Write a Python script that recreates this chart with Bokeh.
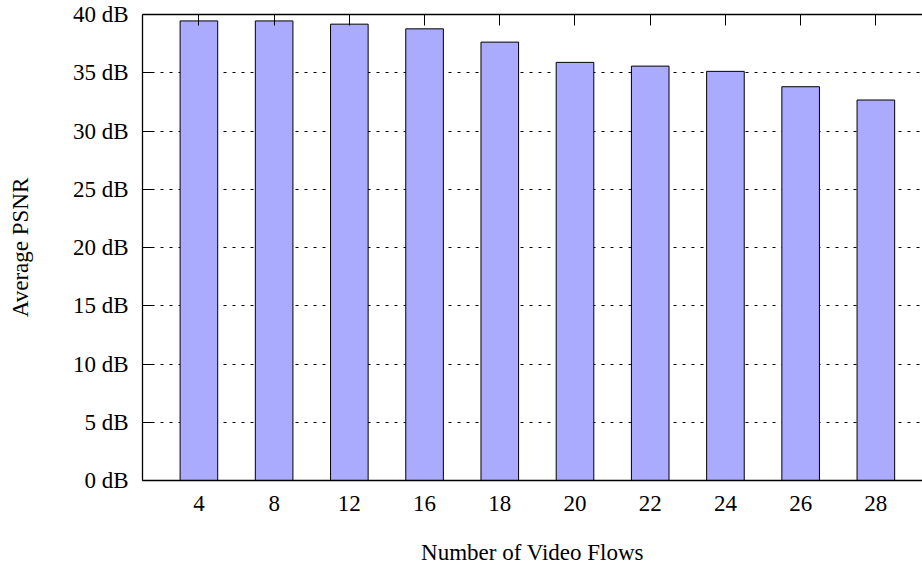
from bokeh.plotting import figure
from bokeh.models import Range1d, FixedTicker, LinearAxis
from bokeh.embed import file_html
from bokeh.resources import INLINE

# Average PSNR per number of concurrent video flows
flows = [4, 8, 12, 16, 18, 20, 22, 24, 26, 28]
psnr_db = [39.45, 39.45, 39.17, 38.77, 37.63, 35.89, 35.57, 35.12, 33.80, 32.66]
y_ticks = [0, 5, 10, 15, 20, 25, 30, 35, 40]

FONT = "Liberation Serif"
idx = list(range(len(flows)))

p = figure(
    width=922, height=567,
    x_range=Range1d(-0.75, 9.62), y_range=Range1d(0, 40),
    output_backend="svg", toolbar_location=None,
    min_border_left=142, min_border_right=0,
    min_border_top=14, min_border_bottom=85,
)
p.outline_line_color = None
p.background_fill_color = "white"
p.border_fill_color = "white"

p.vbar(x=idx, top=psnr_db, bottom=0, width=0.5,
       fill_color="#aaaaff", line_color="black", line_width=1)

# horizontal dotted grid
p.xgrid.grid_line_color = None
p.ygrid.ticker = FixedTicker(ticks=y_ticks)
p.ygrid.grid_line_color = "black"
p.ygrid.grid_line_dash = "3 6"
p.ygrid.grid_line_width = 1

# bottom axis
xa = p.xaxis[0]
xa.ticker = FixedTicker(ticks=idx)
xa.major_label_overrides = {i: str(f) for i, f in zip(idx, flows)}
xa.major_tick_in = 0
xa.major_tick_out = 0
xa.minor_tick_line_color = None
xa.axis_line_color = "black"
xa.axis_line_width = 1.3
xa.major_label_standoff = 15
xa.major_label_text_font = FONT
xa.major_label_text_font_size = "23px"
xa.major_label_text_color = "black"
xa.axis_label = "Number of Video Flows"
xa.axis_label_text_font = FONT
xa.axis_label_text_font_size = "23px"
xa.axis_label_text_font_style = "normal"
xa.axis_label_text_color = "black"
xa.axis_label_standoff = 26

# left axis
ya = p.yaxis[0]
ya.ticker = FixedTicker(ticks=y_ticks)
ya.major_label_overrides = {v: f"{v} dB" for v in y_ticks}
ya.major_tick_in = 10
ya.major_tick_out = 0
ya.major_tick_line_color = "black"
ya.minor_tick_line_color = None
ya.axis_line_color = "black"
ya.axis_line_width = 1.3
ya.major_label_standoff = 14
ya.major_label_text_font = FONT
ya.major_label_text_font_size = "23px"
ya.major_label_text_color = "black"
ya.axis_label = "Average PSNR"
ya.axis_label_text_font = FONT
ya.axis_label_text_font_size = "23px"
ya.axis_label_text_font_style = "normal"
ya.axis_label_text_color = "black"
ya.axis_label_standoff = 37

# top border with mirrored inward ticks
top = LinearAxis(ticker=FixedTicker(ticks=idx))
top.major_tick_in = 11
top.major_tick_out = 0
top.major_tick_line_color = "black"
top.minor_tick_line_color = None
top.axis_line_color = "black"
top.axis_line_width = 1.3
top.major_label_text_font_size = "0px"
top.major_label_text_color = None
top.major_label_standoff = 0
p.add_layout(top, "above")

open("out.html", "w").write(file_html(p, INLINE))
